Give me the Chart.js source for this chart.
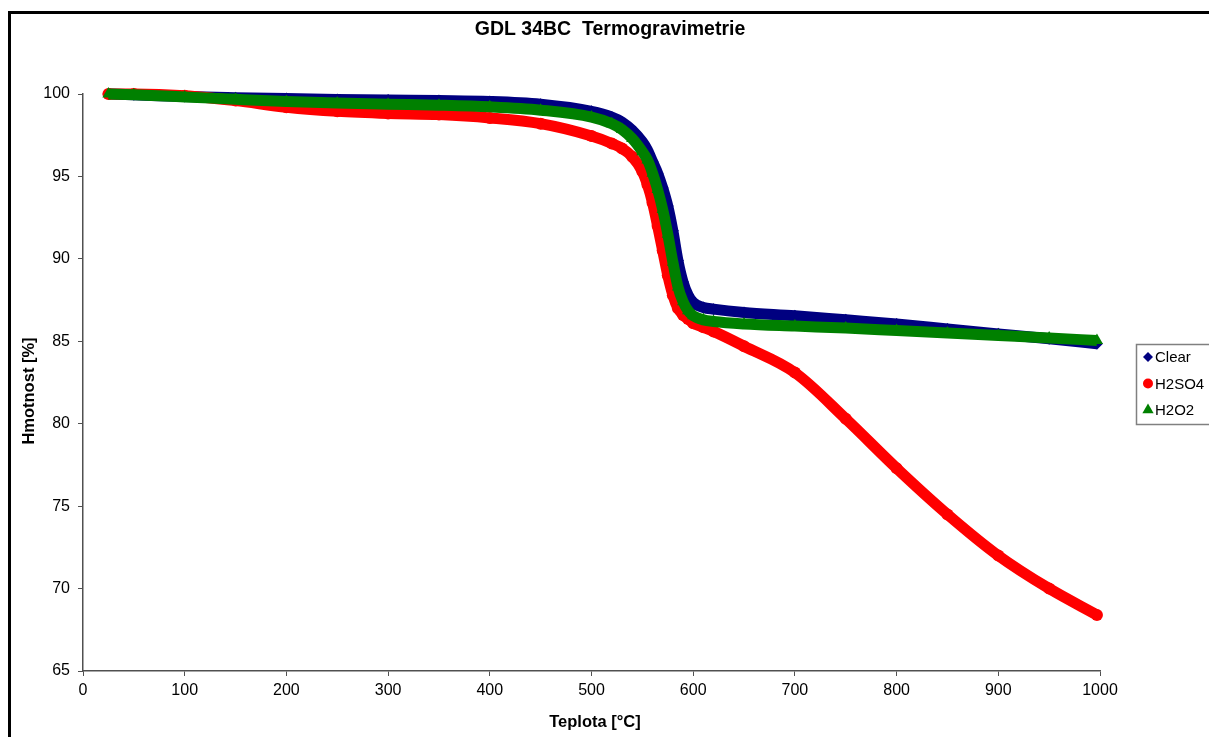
<!DOCTYPE html>
<html>
<head>
<meta charset="utf-8">
<script src="https://cdn.jsdelivr.net/npm/chart.js@4/dist/chart.umd.min.js"></script>
<style>
  html, body { margin: 0; padding: 0; background: #fff; }
  #wrap { width: 1209px; height: 737px; position: relative; }
</style>
</head>
<body>
<div id="wrap"><canvas id="myChart" width="1209" height="737"></canvas></div>
<script>

// temperature grid [°C]
const teplota = [25, 50, 100, 150, 200, 250, 300, 350, 400, 450, 500, 520, 530, 540, 550, 555,
  560, 565, 570, 575, 580, 585, 590, 595, 600, 610, 620, 650, 700, 750, 800, 850, 900, 950, 997];

// mass [%]
const clear = [100.0, 99.95, 99.85, 99.78, 99.72, 99.67, 99.63, 99.6, 99.55, 99.38, 98.95, 98.6, 98.3, 97.8, 97.1, 96.6,
  95.9, 95.2, 94.3, 93.2, 91.7, 89.9, 88.6, 87.8, 87.35, 87.05, 86.95, 86.75, 86.55, 86.3, 86.05, 85.75, 85.45, 85.15, 84.85];

const h2so4 = [100.0, 100.0, 99.9, 99.6, 99.2, 98.95, 98.82, 98.75, 98.55, 98.2, 97.45, 97.0, 96.7, 96.2, 95.3, 94.5,
  93.4, 92.0, 90.5, 89.0, 87.8, 87.0, 86.6, 86.35, 86.1, 85.85, 85.6, 84.7, 83.1, 80.3, 77.3, 74.5, 72.0, 70.0, 68.4];

const h2o2 = [100.0, 99.95, 99.82, 99.68, 99.55, 99.45, 99.38, 99.32, 99.22, 99.02, 98.6, 98.2, 97.85, 97.3, 96.5, 96.0,
  95.2, 94.2, 93.0, 91.5, 89.8, 88.3, 87.4, 86.85, 86.55, 86.3, 86.2, 86.05, 85.92, 85.8, 85.65, 85.5, 85.35, 85.2, 85.05];

const labels = ['Clear', 'H2SO4', 'H2O2'];
const colors = ['#000080', '#ff0000', '#008000'];
const markers = ['rectRot', 'circle', 'triangle'];

const xTicks = { min: 0, max: 1000, step: 100 };
const yTicks = { min: 65, max: 100, step: 5 };

const chartTitle = 'GDL 34BC  Termogravimetrie';
const xTitle = 'Teplota [°C]';
const yTitle = 'Hmotnost [%]';
const font = '"Liberation Sans", Arial, sans-serif';

function toPoints(values) {
  return teplota.map((t, i) => ({ x: t, y: values[i] }));
}

const series = [clear, h2so4, h2o2];

const data = {
  datasets: series.map((s, i) => ({
    label: labels[i],
    data: toPoints(s),
    showLine: true,
    borderColor: colors[i],
    backgroundColor: colors[i],
    borderWidth: 11,
    pointStyle: markers[i],
    pointRadius: i == 2 ? 7 : 6,
    pointBorderWidth: 0,
    cubicInterpolationMode: 'monotone',
    clip: false,
    order: 3 - i
  }))
};

const axisColor = '#505050';

// outer frame, titles and legend box drawn on the canvas
const framePlugin = {
  id: 'frame',
  afterDraw(chart) {
    const ctx = chart.ctx;
    ctx.save();
    ctx.strokeStyle = '#000';
    ctx.lineWidth = 3;
    ctx.strokeRect(9.5, 12.5, 1400, 900);

    ctx.fillStyle = '#000';
    ctx.textAlign = 'center';
    ctx.textBaseline = 'middle';
    ctx.font = 'bold 19.5px ' + font;
    ctx.fillText(chartTitle, 610, 30);

    ctx.font = 'bold 16.5px ' + font;
    ctx.fillText(xTitle, 595, 722);
    ctx.save();
    ctx.translate(29, 391);
    ctx.rotate(-Math.PI / 2);
    ctx.fillText(yTitle, 0, 0);
    ctx.restore();

    // legend
    ctx.strokeStyle = '#808080';
    ctx.lineWidth = 1.5;
    ctx.strokeRect(1136.5, 344.5, 80, 80);
    ctx.font = '15px ' + font;
    ctx.textAlign = 'left';
    chart.data.datasets.forEach((ds, i) => {
      const y = 357 + i * 26.5;
      ctx.fillStyle = ds.backgroundColor;
      Chart.helpers.drawPoint(ctx, { pointStyle: ds.pointStyle, radius: ds.pointStyle == 'triangle' ? 6.5 : 5, borderWidth: 0, rotation: 0 }, 1148, y);
      ctx.fillStyle = '#000';
      ctx.fillText(ds.label, 1155, y + 1);
    });
    ctx.restore();
  }
};

const config = {
  type: 'scatter',
  data: data,
  options: {
    responsive: false,
    animation: false,
    layout: { padding: { left: 0, right: 109, top: 94, bottom: 0 } },
    plugins: {
      legend: { display: false },
      tooltip: { enabled: false },
      title: { display: false }
    },
    scales: {
      x: {
        type: 'linear',
        min: xTicks.min,
        max: xTicks.max,
        afterFit(scale) { scale.height = 66; },
        ticks: {
          stepSize: xTicks.step,
          color: '#000',
          padding: 5,
          maxRotation: 0,
          callback: (v) => String(v),
          font: { family: font, size: 16 }
        },
        grid: { drawOnChartArea: false, drawTicks: true, tickLength: 5, color: axisColor },
        border: { color: axisColor, width: 1.5 }
      },
      y: {
        type: 'linear',
        min: yTicks.min,
        max: yTicks.max,
        afterFit(scale) { scale.width = 83; },
        ticks: {
          stepSize: yTicks.step,
          color: '#000',
          padding: 8,
          callback: (v) => String(v),
          font: { family: font, size: 16 }
        },
        grid: { drawOnChartArea: false, drawTicks: true, tickLength: 5, color: axisColor },
        border: { color: axisColor, width: 1.5 }
      }
    }
  },
  plugins: [framePlugin]
};

const myChart = new Chart(
  document.getElementById('myChart'),
  config
);

</script>
</body>
</html>
